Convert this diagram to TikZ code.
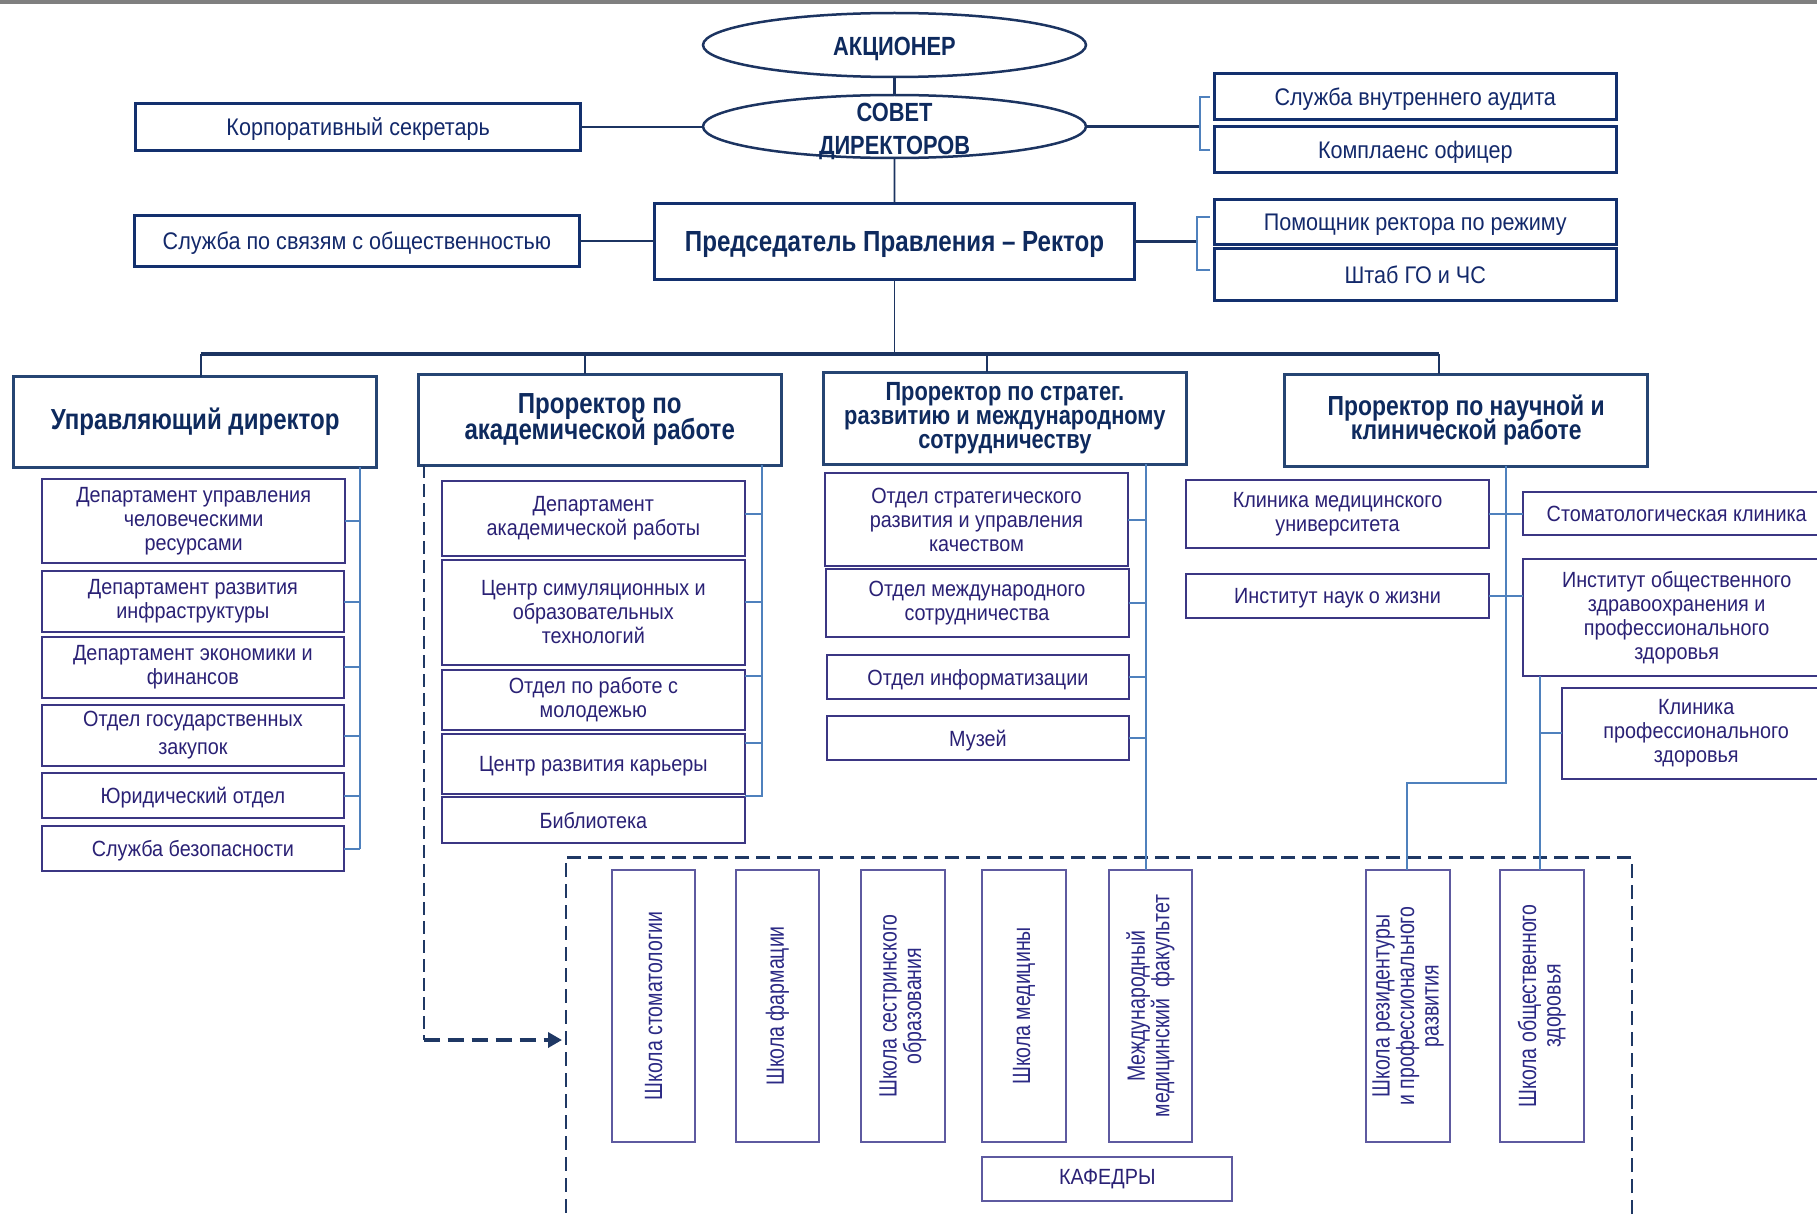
\documentclass[tikz,border=0pt]{standalone}
\usepackage{fontspec}
\setmainfont{Liberation Sans}[FakeStretch=0.9]
\newfontfamily\hb{Liberation Sans}[FakeStretch=0.83]
\newfontfamily\rotfont{Liberation Sans}[FakeStretch=0.78]
\usetikzlibrary{shapes.geometric,arrows.meta,calc}
\setlength\lineskiplimit{-100pt}
\definecolor{navy}{HTML}{0E2A5E}
\definecolor{headline}{HTML}{264573}
\definecolor{topline}{HTML}{13306E}
\definecolor{toptext}{HTML}{13296B}
\definecolor{subtext}{HTML}{2A2175}
\definecolor{subline}{HTML}{3B3683}
\definecolor{schline}{HTML}{5E5AA0}
\definecolor{schtext}{HTML}{2C2A85}
\definecolor{railblue}{HTML}{4F81BD}
\definecolor{connc}{HTML}{1C3461}
\definecolor{dashc}{HTML}{1F3864}
\definecolor{barc}{HTML}{7F7F7F}
\newcommand\mkbox[7]{%
  \pgfmathsetmacro\mbw{#4-#2}\pgfmathsetmacro\mbh{#5-#3}%
  \pgfmathsetmacro\mbx{(#2+#4)/2}\pgfmathsetmacro\mby{(#3+#5)/2}%
  \node[#6,minimum width=\mbw pt,minimum height=\mbh pt] (#1) at (\mbx,\mby) {#7};}
\tikzset{
  every node/.style={inner sep=0pt,outer sep=0pt},
  ell/.style={ellipse,draw=connc,line width=2.5pt,fill=white},
  elltext/.style={text=navy,font=\hb\bfseries\fontsize{26.3}{33}\selectfont,align=center},
  topbox/.style={draw=topline,line width=3pt,fill=white,text=toptext,
    font=\fontsize{24}{28}\selectfont,align=center,text height=17pt,text depth=0pt},
  rekbox/.style={draw=topline,line width=3pt,fill=white,text=navy,
    font=\hb\bfseries\fontsize{29.1}{32}\selectfont,align=center,text height=21pt,text depth=0pt},
  headbox/.style={draw=headline,line width=3pt,fill=white,text=navy,
    font=\hb\bfseries\fontsize{29}{26}\selectfont,align=center},
  subbox/.style={draw=subline,line width=2pt,fill=white,text=subtext,
    font=\fontsize{22}{24}\selectfont,align=center},
  one/.style={text height=15.8pt,text depth=0pt},
  schbox/.style={draw=schline,line width=2pt,fill=white},
  rottext/.style={rotate=90,text=schtext,font=\rotfont\fontsize{25}{24.5}\selectfont,align=center},
  contbox/.style={draw=dashc,line width=2.5pt,dash pattern=on 14pt off 7pt},
  conn/.style={draw=connc,line width=2.5pt},
  thinconn/.style={draw=connc,line width=1.6pt},
  busline/.style={draw=connc,line width=4pt},
  drop/.style={draw=connc,line width=2pt},
  railc/.style={draw=railblue,line width=2pt},
  dashthin/.style={draw=dashc,line width=2pt,dash pattern=on 13pt off 6pt},
  dashthick/.style={draw=dashc,line width=4pt,dash pattern=on 16pt off 8pt},
}
\begin{document}
\begin{tikzpicture}[x=1pt,y=-1pt]
\useasboundingbox (0,0) rectangle (1817,1220);
\fill[barc] (0,0) rectangle (1817,4);

% ---- top level ----
\node[ell,minimum width=383pt,minimum height=64pt] (akc) at (894.5,45) {};
\node[elltext] (akct) at (894.5,49) {АКЦИОНЕР};
\node[ell,minimum width=383pt,minimum height=63pt] (sov) at (894.5,126.5) {};
\node[elltext] (sovt) at (894.5,131) {СОВЕТ\\ДИРЕКТОРОВ};

\mkbox{korp}{135.6}{103.7}{580.6}{150}{topbox}{Корпоративный секретарь}
\mkbox{audit}{1214.5}{74}{1616}{119.3}{topbox}{Служба внутреннего аудита}
\mkbox{kompl}{1214.5}{126.7}{1616}{172.7}{topbox}{Комплаенс офицер}
\mkbox{rektor}{654.7}{203.3}{1134.4}{279.3}{rekbox}{Председатель Правления – Ректор}
\mkbox{pr}{134.4}{215}{579.4}{266.7}{topbox}{Служба по связям с общественностью}
\mkbox{pom}{1214.5}{199}{1616}{244.3}{topbox}{Помощник ректора по режиму}
\mkbox{shtab}{1214.5}{248.3}{1616}{300.7}{topbox}{Штаб ГО и ЧС}

% ---- heads ----
\mkbox{upr}{13.9}{376.7}{376.5}{467.3}{headbox}{Управляющий директор}
\mkbox{akad}{418.4}{374}{781}{465.3}{headbox}{Проректор по\\академической работе}
\mkbox{strat}{823.6}{372}{1186}{464}{headbox,font=\hb\bfseries\fontsize{26.3}{24.3}\selectfont}{Проректор по стратег.\\развитию и международному\\сотрудничеству}
\mkbox{nauch}{1284.6}{374}{1647.7}{466}{headbox,font=\hb\bfseries\fontsize{27.6}{24.8}\selectfont}{Проректор по научной и\\клинической работе}

% ---- managing director units ----
\mkbox{d1}{42.3}{479.3}{345}{562.7}{subbox}{Департамент управления\\человеческими\\ресурсами}
\mkbox{d2}{41.8}{571.3}{344}{632}{subbox}{Департамент развития\\инфраструктуры}
\mkbox{d3}{41.8}{637}{344}{697.7}{subbox}{Департамент экономики и\\финансов}
\mkbox{d4}{41.8}{705.3}{344}{765.7}{subbox,font=\fontsize{22}{28}\selectfont}{Отдел государственных\\закупок}
\mkbox{d5}{41.8}{773.3}{344}{818}{subbox,one}{Юридический отдел}
\mkbox{d6}{41.8}{826}{344}{871}{subbox,one}{Служба безопасности}

% ---- academic units ----
\mkbox{a1}{441.8}{480.7}{744.9}{556}{subbox}{Департамент\\академической работы}
\mkbox{a2}{441.8}{559.7}{744.9}{665.3}{subbox}{Центр симуляционных и\\образовательных\\технологий}
\mkbox{a3}{441.8}{669.7}{744.9}{729.7}{subbox}{Отдел по работе с\\молодежью}
\mkbox{a4}{441.8}{733.7}{744.9}{793.7}{subbox,one}{Центр развития карьеры}
\mkbox{a5}{441.8}{797.3}{744.9}{843}{subbox,one}{Библиотека}

% ---- strategic units ----
\mkbox{s1}{825}{473.3}{1128}{566}{subbox}{Отдел стратегического\\развития и управления\\качеством}
\mkbox{s2}{825.5}{569}{1128.5}{637}{subbox}{Отдел международного\\сотрудничества}
\mkbox{s3}{826.9}{655.3}{1129}{699.3}{subbox,one}{Отдел информатизации}
\mkbox{s4}{826.9}{716.3}{1129}{760.3}{subbox,one}{Музей}

% ---- scientific / clinical units ----
\mkbox{k1}{1186}{480.3}{1489}{548.3}{subbox}{Клиника медицинского\\университета}
\mkbox{k2}{1186}{573.7}{1489}{618}{subbox,one}{Институт наук о жизни}
\mkbox{st}{1523.4}{491.7}{1830}{535.3}{subbox,one}{Стоматологическая клиника}
\mkbox{io}{1523.4}{559}{1830}{675.7}{subbox}{Институт общественного\\здравоохранения и\\профессионального\\здоровья}
\mkbox{kp}{1562.4}{687.7}{1830}{779}{subbox}{Клиника\\профессионального\\здоровья}

% ---- schools ----
\mkbox{cont}{566}{857.7}{1632}{1240}{contbox}{}
\mkbox{sc1}{611.9}{870}{695.3}{1142}{schbox}{}
\mkbox{sc2}{735.6}{870}{819}{1142}{schbox}{}
\mkbox{sc3}{861.2}{870}{944.6}{1142}{schbox}{}
\mkbox{sc4}{982.2}{870}{1065.6}{1142}{schbox}{}
\mkbox{sc5}{1108.7}{870}{1192.1}{1142}{schbox}{}
\mkbox{sc6}{1366.3}{870}{1449.7}{1142}{schbox}{}
\mkbox{sc7}{1500}{870}{1583.5}{1142}{schbox}{}
\node[rottext] (sc1t) at (sc1) {Школа стоматологии};
\node[rottext] (sc2t) at (sc2) {Школа фармации};
\node[rottext] (sc3t) at (sc3) {Школа сестринского\\образования};
\node[rottext] (sc4t) at (sc4) {Школа медицины};
\node[rottext] (sc5t) at (sc5) {Международный\\медицинский\ \ факультет};
\node[rottext] (sc6t) at (sc6) {Школа резидентуры\\и профессионального\\развития};
\node[rottext] (sc7t) at (sc7) {Школа общественного\\здоровья};
\mkbox{kaf}{982.2}{1157.3}{1232.4}{1201}{subbox,draw=schline}{КАФЕДРЫ}

% ---- top connectors ----
\draw[conn] (akc) -- (sov);
\draw[thinconn] (sov) -- (rektor);
\draw[conn] (korp.east) -- (sov.west |- korp.east);
\coordinate (brA) at (1199.8,126.5);
\draw[conn] (sov.east) -- (sov.east -| brA);
\draw[railc] ([xshift=-5pt]audit.west) -- (audit.west -| brA) -- (kompl.west -| brA) -- ([xshift=-5pt]kompl.west);
\coordinate (brB) at (1197,241.3);
\draw[conn] (rektor.east) -- (rektor.east -| brB);
\coordinate (pomT) at ($(pom.west)+(-5,-5)$);
\coordinate (shtT) at ($(shtab.west)+(-5,-5)$);
\draw[railc] (pomT) -- (pomT -| brB) -- (shtT -| brB) -- (shtT);
\draw[conn] (pr.east) -- (rektor.west |- pr.east);

% ---- bus ----
\coordinate (dp1) at (200.5,354);
\coordinate (dp2) at (585,354);
\coordinate (dp3) at (987,354);
\coordinate (dp4) at (1439,354);
\draw[thinconn] (rektor.south) -- (rektor.south |- dp1);
\draw[drop] (dp1) -- (upr.north -| dp1);
\draw[drop] (dp2) -- (akad.north -| dp2);
\draw[drop] (dp3) -- (strat.north -| dp3);
\draw[drop] (dp4) -- (nauch.north -| dp4);
\draw[busline] (dp1) -- (dp4);

% ---- rails ----
\coordinate (rU) at (360.2,0);
\draw[railc] (upr.south -| rU) -- (d6.east -| rU);
\foreach \n in {d1,d2,d3,d4,d5,d6} \draw[railc] (\n.east) -- (\n.east -| rU);

\coordinate (rA) at (761.7,0);
\draw[railc] (akad.south -| rA) -- ($(a4.south east -| rA)+(0,2.6)$) -- ($(a4.south east)+(0,2.6)$);
\coordinate (t1) at ($(a1.north east)!0.44!(a1.south east)$);
\coordinate (t2) at ($(a2.north east)!0.40!(a2.south east)$);
\coordinate (t3) at ($(a3.north east)!0.11!(a3.south east)$);
\coordinate (t4) at ($(a4.north east)!0.15!(a4.south east)$);
\foreach \t in {t1,t2,t3,t4} \draw[railc] (\t) -- (\t -| rA);

\coordinate (rS) at (1146,0);
\draw[railc] (strat.south -| rS) -- (sc5.north -| rS);
\foreach \n in {s1,s2,s3,s4} \draw[railc] (\n.east) -- (\n.east -| rS);

\coordinate (rN) at (1505.5,783.3);
\coordinate (rN2) at (1407,783.3);
\draw[railc] (nauch.south -| rN) -- (rN) -- (rN2) -- (sc6.north -| rN2);
\draw[railc] (k1.east) -- (k1.east -| st.west);
\draw[railc] (k2.east) -- (k2.east -| io.west);
\coordinate (rO) at (1539.5,0);
\draw[railc] (io.south -| rO) -- (sc7.north -| rO);
\draw[railc] (kp.west -| rO) -- (kp.west);

% ---- dashed arrow to schools ----
\coordinate (dA) at (423.5,1040);
\draw[dashthin] (akad.south -| dA) -- (dA);
\draw[dashthick,-{Triangle[length=14pt,width=15pt]},shorten >=4pt] (dA) -- (dA -| cont.west);
\end{tikzpicture}
\end{document}
